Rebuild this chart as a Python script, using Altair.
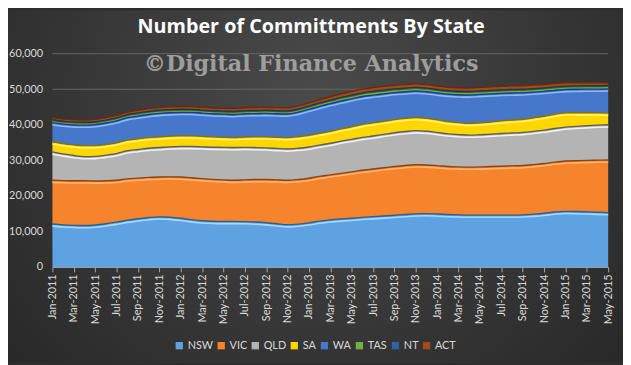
import altair as alt
import pandas as pd

MONTH_ABBR = ["Jan", "Feb", "Mar", "Apr", "May", "Jun", "Jul", "Aug", "Sep", "Oct", "Nov", "Dec"]
months = [f"{m}-{y}" for y in range(2011, 2016) for m in MONTH_ABBR][:53]
tick_labels = months[::2]
y_ticks = [0, 10000, 20000, 30000, 40000, 50000, 60000]

states = ["NSW", "VIC", "QLD", "SA", "WA", "TAS", "NT", "ACT"]

nsw = [12100, 11850, 11700, 11650, 11800, 12150, 12600, 13150, 13550, 13900, 14100, 14000, 13700,
       13300, 13000, 12850, 12800, 12800, 12750, 12650, 12450, 12150, 11900, 12050, 12400, 12900,
       13250, 13500, 13700, 13950, 14150, 14350, 14550, 14750, 14950, 15000, 14900, 14750, 14650,
       14600, 14600, 14600, 14600, 14600, 14650, 14850, 15100, 15450, 15650, 15600, 15500, 15400, 15300]
vic = [12300, 12450, 12550, 12600, 12400, 12100, 11800, 11650, 11450, 11300, 11200, 11350, 11600,
       11800, 11850, 11800, 11700, 11600, 11750, 11950, 12150, 12350, 12500, 12550, 12550, 12600,
       12650, 12850, 13050, 13250, 13400, 13550, 13700, 13800, 13800, 13700, 13600, 13500, 13500,
       13500, 13550, 13650, 13750, 13850, 13900, 13950, 14000, 14050, 14150, 14300, 14500, 14650, 14800]
qld = [8000, 7500, 7100, 6800, 6900, 7200, 7500, 7900, 8050, 8200, 8300, 8450, 8600,
       8800, 8950, 9050, 9150, 9200, 9150, 9000, 8900, 8850, 8800, 8800, 8800, 8800,
       8900, 9050, 9150, 9250, 9300, 9400, 9500, 9550, 9600, 9500, 9350, 9200, 9100,
       9000, 9050, 9100, 9200, 9250, 9300, 9350, 9400, 9450, 9550, 9650, 9750, 9850, 9900]
sa = [2800, 2900, 3000, 3100, 3050, 3000, 3000, 3000, 3000, 3000, 3000, 3000, 3000,
      3000, 2950, 2900, 2850, 2800, 2900, 3000, 3100, 3150, 3200, 3250, 3300, 3300,
      3350, 3450, 3550, 3650, 3700, 3700, 3700, 3700, 3700, 3650, 3550, 3450, 3350,
      3300, 3350, 3450, 3550, 3650, 3700, 3800, 3900, 4000, 4000, 3850, 3650, 3450, 3300]
wa = [5400, 5500, 5600, 5750, 5900, 6050, 6200, 6300, 6400, 6500, 6600, 6600, 6600,
      6600, 6550, 6500, 6500, 6500, 6550, 6550, 6600, 6600, 6650, 6900, 7300, 7600,
      7800, 7850, 7850, 7850, 7800, 7700, 7600, 7500, 7450, 7450, 7550, 7700, 7850,
      8000, 8000, 7900, 7750, 7600, 7450, 7250, 7000, 6750, 6600, 6600, 6650, 6700, 6800]
tas = [600, 590, 580, 590, 600, 610, 620, 630, 640, 650, 650, 640, 630,
       620, 610, 610, 620, 630, 640, 650, 650, 640, 630, 640, 660, 690,
       720, 740, 760, 770, 780, 780, 770, 760, 750, 740, 730, 720, 720,
       720, 720, 730, 740, 740, 740, 730, 720, 710, 700, 700, 700, 700, 700]
nt = [220, 220, 210, 210, 220, 220, 230, 230, 240, 240, 240, 240, 230,
      230, 230, 230, 230, 240, 240, 240, 240, 240, 240, 250, 250, 260,
      260, 270, 270, 280, 280, 280, 280, 270, 270, 270, 260, 260, 260,
      260, 260, 260, 260, 260, 260, 260, 250, 250, 250, 250, 250, 250, 250]
act = [650, 640, 640, 650, 660, 680, 700, 720, 740, 760, 770, 780, 780,
       780, 780, 790, 800, 810, 820, 830, 840, 850, 860, 880, 900, 930,
       960, 990, 1010, 1030, 1040, 1040, 1030, 1020, 1010, 1000, 990, 990, 990,
       990, 990, 990, 990, 990, 990, 980, 960, 940, 920, 880, 840, 800, 760]

series = [nsw, vic, qld, sa, wa, tas, nt, act]
fill_colors = ["#5EA2E2", "#F5842D", "#B4B4B4", "#FFD700", "#4577CB", "#72B044", "#2E62A0", "#A5481A"]
dark_colors = ["#2F5F8F", "#8A4512", "#5E5E5E", "#8A7000", "#1F3F75", "#3F6A25", "#17375E", "#6A2A0A"]
light_colors = ["#A8DAFF", "#FFB575", "#F2F2F2", "#FFF27A", "#8FB8FF", "#A5E07A", "#5A8FD0", "#D07040"]

TITLE = "Number of Committments By State"
WATERMARK = "©Digital Finance Analytics"

rows = []
for si, (s, vals) in enumerate(zip(states, series)):
    for mi, v in enumerate(vals):
        rows.append({"month": months[mi], "state": s, "value": v, "order": si})
df = pd.DataFrame(rows)

W, H = 563, 216
LABEL_FONT = "Lato"
LABEL_COLOR = "#D9D9D9"

x_enc = alt.X(
    "month:O", sort=months, title=None,
    scale=alt.Scale(type="point", padding=0),
    axis=alt.Axis(values=tick_labels, labelAngle=-90, labelFont=LABEL_FONT, labelFontSize=11,
                  labelColor=LABEL_COLOR, domainColor="#A6A6A6", tickColor="#A6A6A6",
                  tickSize=5, labelPadding=2, grid=False, zindex=1),
)

y_scale = alt.Scale(domain=[0, 60000], nice=False)
y_axis = alt.Axis(values=y_ticks, format=",.0f", labelFont=LABEL_FONT, labelFontSize=11,
                  labelColor=LABEL_COLOR, labelPadding=10, domain=False, ticks=False,
                  grid=False, zindex=1)

one = pd.DataFrame({"k": [0]})

bg = alt.Chart(one).mark_rect(
    color=alt.RadialGradient(
        gradient="radial", x1=0.5, y1=0.35, r1=0, x2=0.5, y2=0.35, r2=0.75,
        stops=[alt.GradientStop(offset=0, color="#4A4A4A"),
               alt.GradientStop(offset=1, color="#242424")],
    )
).encode(x=alt.value(-45), x2=alt.value(578), y=alt.value(-44), y2=alt.value(313))

grid = alt.Chart(pd.DataFrame({"tick": y_ticks})).mark_rule(
    color="#676767", strokeWidth=1
).encode(
    y=alt.Y("tick:Q", scale=y_scale, axis=y_axis, title=None),
    x=alt.value(0), x2=alt.value(W),
)

base = alt.Chart(df)

area = base.mark_area(interpolate="monotone").encode(
    x=x_enc,
    y=alt.Y("value:Q", stack="zero", scale=y_scale, title=None, axis=y_axis),
    color=alt.Color("state:N", sort=states, scale=alt.Scale(domain=states, range=fill_colors),
                    legend=alt.Legend(title=None, orient="none", direction="horizontal",
                                      legendX=123, legendY=290, symbolType="square", symbolSize=55,
                                      symbolStrokeWidth=0, labelFont=LABEL_FONT, labelFontSize=11,
                                      labelColor=LABEL_COLOR, columnPadding=2.5, labelOffset=3,
                                      padding=0)),
    order=alt.Order("order:Q", sort="ascending"),
)

stacked = base.transform_window(
    top="sum(value)", frame=[None, 0], sort=[alt.SortField("order")], groupby=["month"]
)

dark_lines = stacked.mark_line(interpolate="monotone", strokeWidth=1.4).encode(
    x=x_enc,
    y=alt.Y("top:Q", scale=y_scale, axis=y_axis, title=None),
    stroke=alt.Stroke("state:N", scale=alt.Scale(domain=states, range=dark_colors), legend=None),
    detail="state:N",
)

light_lines = stacked.transform_filter(
    alt.FieldOneOfPredicate(field="state", oneOf=["NSW", "VIC", "QLD", "SA", "WA"])
).mark_line(interpolate="monotone", strokeWidth=1.6, yOffset=2.2).encode(
    x=x_enc,
    y=alt.Y("top:Q", scale=y_scale, axis=y_axis, title=None),
    stroke=alt.Stroke("state:N", scale=alt.Scale(domain=states, range=light_colors), legend=None),
    detail="state:N",
)

watermark = alt.Chart(one).mark_text(
    text=WATERMARK, font="DejaVu Serif", fontWeight="bold", fontSize=22.5,
    color="#A8A8A8", opacity=0.9, align="center", baseline="middle",
).encode(x=alt.value(262), y=alt.value(11))

title = alt.Chart(one).mark_text(
    text=TITLE, font="Open Sans", fontWeight="bold", fontSize=20,
    color="#FFFFFF", align="center", baseline="middle",
).encode(x=alt.value(262), y=alt.value(-27.5))

chart = alt.layer(bg, grid, area, dark_lines, light_lines, watermark, title).resolve_scale(
    color="independent", stroke="independent"
).properties(
    width=W, height=H,
    autosize=alt.AutoSizeParams(type="none"),
    padding={"left": 45, "top": 44, "right": 15, "bottom": 97},
    background="#2E2E2E",
).configure_view(stroke=None)

chart.save("out.html", embed_options={"renderer": "svg", "actions": False})
